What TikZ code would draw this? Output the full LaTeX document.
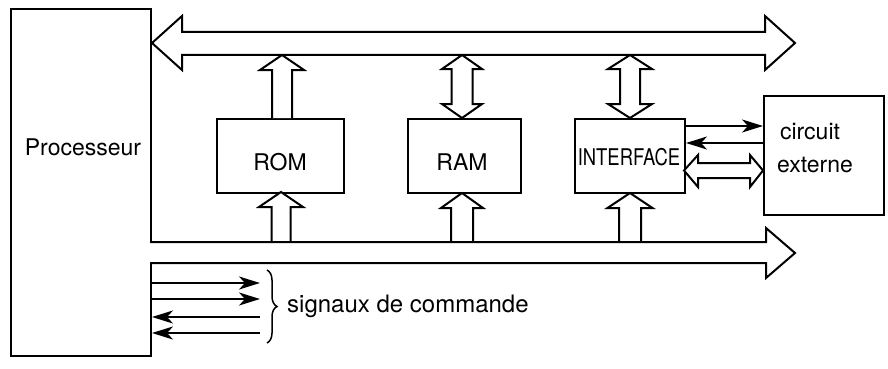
\documentclass[tikz,border=0pt]{standalone}
\usepackage{fontspec}
\setmainfont{TeX Gyre Heros}
\usetikzlibrary{arrows.meta,decorations.pathreplacing}

% wide (hollow) arrow pointing up: centre x, tip y, foot y, shaft half-width, head half-width
\newcommand{\WideUp}[5]{%
  \draw[fatarrow] (#1-#4,#3) -- (#1-#4,#2+15) -- (#1-#5,#2+15) -- (#1,#2)
    -- (#1+#5,#2+15) -- (#1+#4,#2+15) -- (#1+#4,#3);}
% wide double-headed vertical arrow: centre x, top tip y, bottom tip y, shaft and head half-widths
\newcommand{\WideUpDown}[5]{%
  \draw[fatarrow] (#1,#2) -- (#1+#5,#2+14) -- (#1+#4,#2+14) -- (#1+#4,#3-14)
    -- (#1+#5,#3-14) -- (#1,#3) -- (#1-#5,#3-14) -- (#1-#4,#3-14)
    -- (#1-#4,#2+14) -- (#1-#5,#2+14) -- cycle;}

\begin{document}
\begin{tikzpicture}[x=1pt,y=-1pt,
  outline/.style={draw=black,line width=2pt,line join=miter},
  fatarrow/.style={outline,fill=white},
  block/.style={outline,fill=white,inner sep=0pt,anchor=north west},
  wire/.style={line width=1.9pt,-{Stealth[length=21pt,width=13pt,inset=6pt]}},
  lbl/.style={font=\fontsize{23}{27}\selectfont,inner sep=0pt,anchor=base}]

\useasboundingbox (0,0) rectangle (888,369);

% blocks
\node[block,minimum width=140pt,minimum height=347pt] (proc) at (10,8) {};
\node[block,minimum width=127pt,minimum height=74pt] (rom) at (216,118) {};
\node[block,minimum width=113pt,minimum height=74pt] (ram) at (407,118) {};
\node[block,minimum width=110pt,minimum height=74pt] (iface) at (574,118) {};
\node[block,minimum width=120pt,minimum height=119pt] (circ) at (763,95) {};

% labels
\node[lbl] (procl) at (83,155) {Processeur};
\node[lbl] (roml) at (280,170) {ROM};
\node[lbl] (raml) at (462,170) {RAM};
\node[lbl] (ifacel) at (629,165) {\scalebox{0.8}[1]{INTERFACE}};
\node[lbl] (circl1) at (810,139) {circuit};
\node[lbl] (circl2) at (815,172) {externe};
\node[lbl,anchor=base west,font=\fontsize{24}{28}\selectfont] (sigl) at (287,312) {signaux de commande};

% links between the blocks and the two buses
\WideUp{282}{55}{118}{10}{22}
\WideUp{281}{192}{242}{9.5}{22}
\WideUpDown{462}{55}{118}{10.5}{20}
\WideUp{462}{193}{242}{11}{21}
\WideUpDown{630}{55}{118}{10}{22}
\WideUp{630}{193}{242}{11}{22.5}

% data bus (both directions)
\draw[fatarrow] (proc.east |- 0,43) -- (182,16) -- (182,32) -- (765,32) -- (765,16)
  -- (795,43) -- (765,70) -- (765,55) -- (182,55) -- (182,70) -- cycle;

% address bus (outgoing)
\draw[fatarrow] (150,242) -- (766,242) -- (766,228) -- (795,253) -- (766,278)
  -- (766,263) -- (150,263);

% interface <-> external circuit
\coordinate (ya) at (0,126);
\coordinate (yb) at (0,143);
\draw[wire] (iface.east |- ya) -- (circ.west |- ya);
\draw[wire] (circ.west |- yb) -- (iface.east |- yb);
\draw[fatarrow] (684,170.5) -- (698,155) -- (698,163) -- (750,163) -- (750,155)
  -- (763,170.5) -- (750,187) -- (750,178) -- (698,178) -- (698,187) -- cycle;

% control signals
\coordinate (s1) at (260,283);
\coordinate (s2) at (260,299);
\coordinate (s3) at (260,317);
\coordinate (s4) at (260,333);
\draw[wire] (proc.east |- s1) -- (s1);
\draw[wire] (proc.east |- s2) -- (s2);
\draw[wire] (s3) -- (proc.east |- s3);
\draw[wire] (s4) -- (proc.east |- s4);

\draw[line width=1.5pt,decorate,decoration={brace,amplitude=10pt}]
  (267,270) -- (267,343);

\end{tikzpicture}
\end{document}
